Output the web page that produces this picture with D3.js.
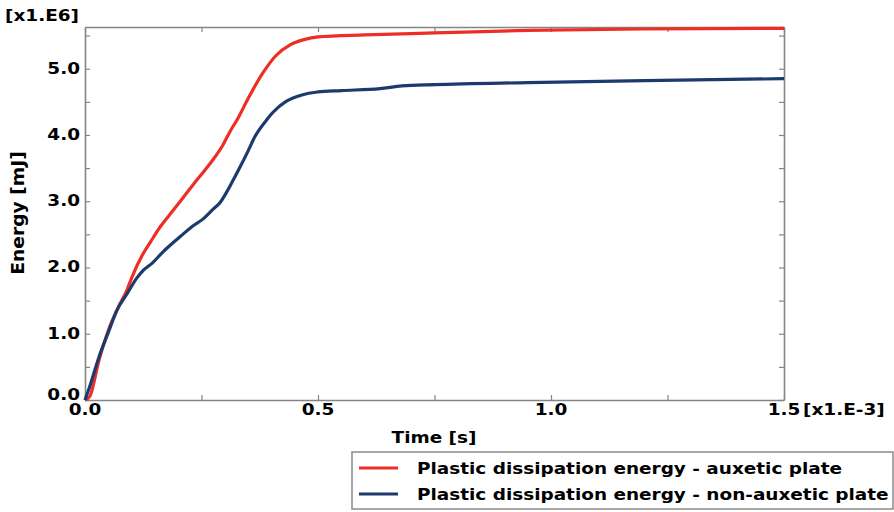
<!DOCTYPE html>
<html>
<head>
<meta charset="utf-8">
<script src="https://cdn.jsdelivr.net/npm/d3@7"></script>
<style>
  body { margin: 0; background: #fff; }
  svg { display: block; font-family: "DejaVu Sans", Verdana, sans-serif; font-weight: bold; }
</style>
</head>
<body>
<svg id="chart"></svg>
<script>
// time in [x1.E-3 s], energy in [x1.E6 mJ]
const auxeticTime = [0, 0.01, 0.03, 0.05, 0.07, 0.09, 0.101, 0.124, 0.14, 0.16, 0.182, 0.21, 0.232, 0.255, 0.275, 0.296, 0.311, 0.328, 0.35, 0.382, 0.41, 0.44, 0.47, 0.5, 0.6, 0.75, 0.95, 1.2, 1.5];
const auxeticEnergy = [0, 0.05, 0.6, 1.05, 1.38, 1.66, 1.86, 2.2, 2.38, 2.6, 2.8, 3.05, 3.25, 3.45, 3.63, 3.85, 4.05, 4.25, 4.55, 4.94, 5.2, 5.36, 5.44, 5.48, 5.51, 5.54, 5.58, 5.6, 5.61];

const nonAuxeticTime = [0, 0.01, 0.03, 0.05, 0.069, 0.09, 0.111, 0.124, 0.145, 0.168, 0.19, 0.21, 0.23, 0.253, 0.275, 0.29, 0.305, 0.318, 0.333, 0.348, 0.365, 0.39, 0.403, 0.43, 0.455, 0.48, 0.5, 0.55, 0.633, 0.68, 0.75, 0.95, 1.2, 1.5];
const nonAuxeticEnergy = [0, 0.2, 0.65, 1.02, 1.36, 1.6, 1.84, 1.95, 2.07, 2.24, 2.38, 2.5, 2.62, 2.73, 2.88, 2.98, 3.15, 3.32, 3.52, 3.73, 3.98, 4.23, 4.34, 4.5, 4.58, 4.63, 4.65, 4.67, 4.7, 4.74, 4.76, 4.79, 4.82, 4.85];

const seriesNames = ["Plastic dissipation energy - auxetic plate", "Plastic dissipation energy - non-auxetic plate"];
const seriesColors = ["#ee2e24", "#1c3a6e"];

const xMajorTicks = [0, 0.5, 1.0, 1.5];
const yMajorTicks = [0, 1, 2, 3, 4, 5];

const width = 894, height = 512;
const margin = { top: 27, right: 110, bottom: 112, left: 85 };

// the reference font runs wider than DejaVu Sans Bold
const stretch = 1.23;

const svg = d3.select("#chart").attr("width", width).attr("height", height);

const x = d3.scaleLinear().domain([0, 1.5]).range([margin.left, width - margin.right]);
const y = d3.scaleLinear().domain([0, 5.63]).range([height - margin.bottom, margin.top]);

const axisColor = "#858585";
const fmt = d3.format(".1f");

function label(g, tx, ty, str, anchor, size, extra) {
    return g.append("text")
        .attr("transform", `translate(${tx},${ty}) ${extra || ""} scale(${stretch},1)`)
        .attr("text-anchor", anchor || "start")
        .attr("font-size", size || 15)
        .text(str);
}

// frame axes with inward ticks
function styleAxis(g) {
    g.select(".domain").attr("stroke", axisColor).attr("stroke-width", 1.6);
    g.selectAll(".tick line").attr("stroke", axisColor).attr("stroke-width", 1.2);
}

const xMinor = d3.range(0, 1.51, 0.25);
const yMinor = d3.range(0, 5.6, 0.5);

svg.append("g")
    .attr("transform", `translate(0,${y(0)})`)
    .call(d3.axisBottom(x).tickValues(xMinor).tickSize(-5).tickSizeOuter(0).tickFormat(""))
    .call(styleAxis);

svg.append("g")
    .attr("transform", `translate(0,${margin.top})`)
    .call(d3.axisTop(x).tickValues(xMinor).tickSize(-5).tickSizeOuter(0).tickFormat(""))
    .call(styleAxis);

svg.append("g")
    .attr("transform", `translate(${margin.left},0)`)
    .call(d3.axisLeft(y).tickValues(yMinor).tickSize(-5).tickSizeOuter(0).tickFormat(""))
    .call(styleAxis);

svg.append("g")
    .attr("transform", `translate(${x(1.5)},0)`)
    .call(d3.axisRight(y).tickValues(yMinor).tickSize(-5).tickSizeOuter(0).tickFormat(""))
    .call(styleAxis);

// tick labels
const xLabels = svg.append("g");
xMajorTicks.forEach(d => label(xLabels, x(d), y(0) + 15, fmt(d), "middle"));

const yLabels = svg.append("g");
yMajorTicks.forEach(d => label(yLabels, margin.left - 5, y(d) + (d === 0 ? 0 : 5), fmt(d), "end"));

label(svg, 5, 21, "[x1.E6]");
label(svg, x(1.5) + 19, y(0) + 15, "[x1.E-3]");
label(svg, 434, 443, "Time [s]", "middle");
svg.append("text")
    .attr("transform", "translate(24,213) rotate(-90) scale(1.04,1)")
    .attr("text-anchor", "middle")
    .attr("font-size", 18)
    .text("Energy [mJ]");

// curves
const line = d3.line()
    .x(d => x(d[0]))
    .y(d => y(d[1]))
    .curve(d3.curveMonotoneX);

const series = [
    d3.zip(auxeticTime, auxeticEnergy),
    d3.zip(nonAuxeticTime, nonAuxeticEnergy)
];

svg.append("g").selectAll("path")
    .data(series)
    .join("path")
    .attr("d", line)
    .attr("fill", "none")
    .attr("stroke", (d, i) => seriesColors[i])
    .attr("stroke-width", 3.2)
    .attr("stroke-linejoin", "round");

// legend
const legend = svg.append("g").attr("transform", "translate(352,452)");
legend.append("rect")
    .attr("width", 541).attr("height", 57)
    .attr("fill", "#fff")
    .attr("stroke", "#8a8a8a")
    .attr("stroke-width", 1.5);

seriesNames.forEach((name, i) => {
    const item = legend.append("g").attr("transform", `translate(0,${16 + i * 26})`);
    item.append("line")
        .attr("x1", 7).attr("x2", 46)
        .attr("stroke", seriesColors[i])
        .attr("stroke-width", 3.2);
    label(item, 65, 6, name);
});
</script>
</body>
</html>
